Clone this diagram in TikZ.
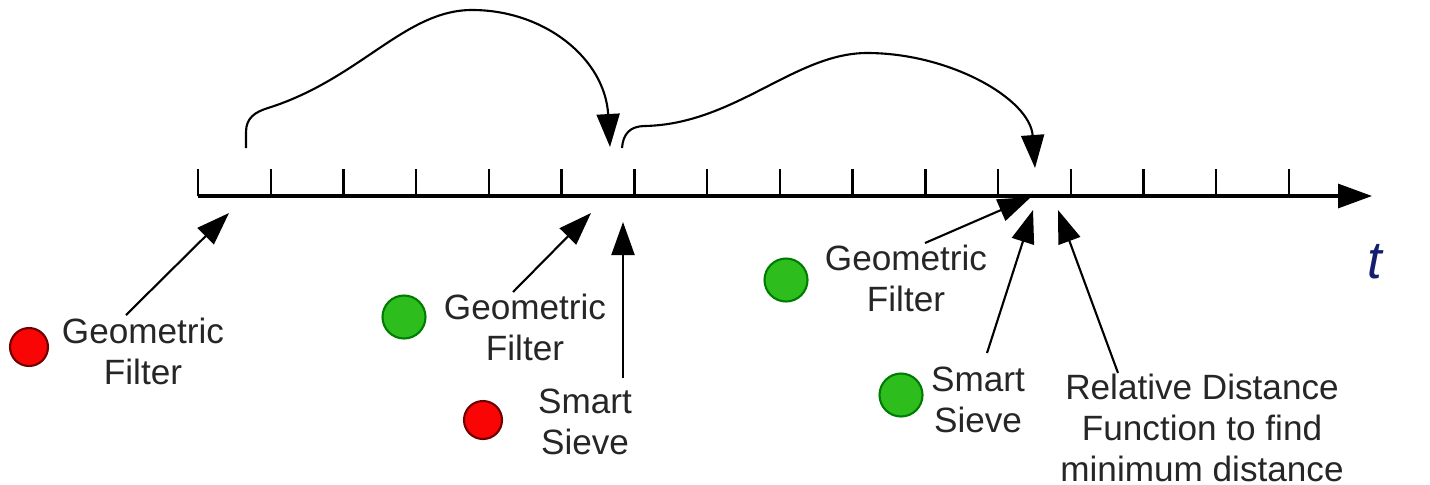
\documentclass[tikz,border=0pt]{standalone}
\usepackage{fontspec}
\setmainfont{Liberation Sans}
\usetikzlibrary{arrows.meta}
\definecolor{ballred}{RGB}{250,5,5}
\definecolor{ballredrim}{RGB}{110,0,0}
\definecolor{ballgreen}{RGB}{45,190,30}
\definecolor{ballgreenrim}{RGB}{0,125,0}
\definecolor{axislabel}{RGB}{20,30,110}

\begin{document}
\begin{tikzpicture}[>={Triangle[length=3.3mm,width=2.3mm]},
  lbl/.style={align=center,inner sep=0pt,text=black!85,font=\fontsize{10}{11.7}\selectfont},
  redball/.style={circle,inner sep=0pt,minimum size=3.8mm,fill=ballred,draw=ballredrim,line width=0.6pt},
  greenball/.style={circle,inner sep=0pt,minimum size=4.3mm,fill=ballgreen,draw=ballgreenrim,line width=0.6pt}]
  \useasboundingbox (0,0) rectangle (14.3,4.84);
  \draw[line width=0.9pt,-{Triangle[length=3.4mm,width=2.4mm]}] (1.98,2.88) coordinate (t0) -- (13.72,2.88) coordinate (tend);
  \foreach \i in {0,...,15} \draw[line width=0.7pt] (1.98+0.7273*\i,2.88) -- ++(0,0.27);
  \node[axislabel,font=\fontsize{15}{18}\selectfont\itshape] (tlab) at (13.75,2.22) {t};

  \node[redball] (r1) at (0.29,1.37) {};
  \node[greenball] (g1) at (4.04,1.67) {};
  \node[redball] (r2) at (4.83,0.64) {};
  \node[greenball] (g2) at (7.86,2.04) {};
  \node[greenball] (g3) at (9.01,0.89) {};

  \node[lbl] (gf1) at (1.43,1.33) {Geometric\\Filter};
  \node[lbl] (gf2) at (5.25,1.57) {Geometric\\Filter};
  \node[lbl] (ss1) at (5.85,0.62) {Smart\\Sieve};
  \node[lbl] (gf3) at (9.06,2.06) {Geometric\\Filter};
  \node[lbl] (ss2) at (9.78,0.84) {Smart\\Sieve};
  \node[lbl] (rdf) at (12.02,0.56) {Relative Distance\\Function to find\\minimum distance};

  \coordinate (gf1tail) at (1.26,1.69);  \coordinate (gf1tip) at (2.29,2.71);
  \coordinate (gf2tail) at (5.13,1.92);  \coordinate (gf2tip) at (5.91,2.71);
  \coordinate (ss1tail) at (6.23,1.06);  \coordinate (ss1tip) at (6.23,2.62);
  \coordinate (gf3tail) at (9.25,2.41);  \coordinate (gf3tip) at (10.31,2.87);
  \coordinate (ss2tail) at (9.87,1.31);  \coordinate (ss2tip) at (10.33,2.74);
  \coordinate (rdftail) at (11.18,1.11); \coordinate (rdftip) at (10.58,2.74);
  \foreach \s in {gf1,gf2,ss1,gf3,ss2,rdf}
    \draw[->,line width=0.6pt] (\s tail) -- (\s tip);

  \coordinate (hop1) at (2.46,3.36); \coordinate (land1) at (6.10,3.37);
  \coordinate (hop2) at (6.22,3.36); \coordinate (land2) at (10.35,3.16);
  \draw[->,line width=0.6pt] (hop1) -- ++(0,0.16) .. controls +(0,0.14) and (2.55,3.72) .. (2.68,3.76)
    .. controls (3.6,4.05) and (4.05,4.74) .. (4.72,4.74)
    .. controls (5.45,4.74) and (6.05,4.25) .. (land1);
  \draw[->,line width=0.6pt] (hop2) .. controls (6.23,3.50) and (6.30,3.58) .. (6.45,3.58)
    .. controls (7.35,3.60) and (7.95,4.31) .. (8.67,4.31)
    .. controls (9.5,4.31) and (10.3,3.85) .. (land2);
\end{tikzpicture}
\end{document}
